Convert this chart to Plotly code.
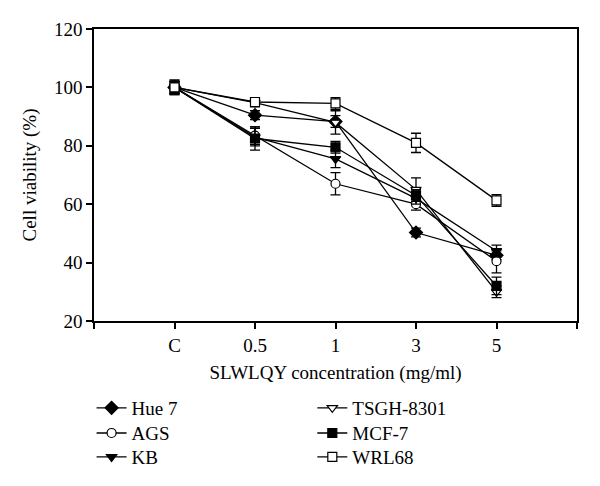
import plotly.graph_objects as go

categories = ["C", "0.5", "1", "3", "5"]
cat_pos = [1, 2, 3, 4, 5]

hue7 = [100, 90.5, 88.3, 50.3, 42.5]
hue7_err = [2.0, 1.5, 2.0, 1.5, 1.5]
ags = [100, 83.5, 67.0, 60.0, 40.5]
ags_err = [2.0, 3.0, 3.8, 2.0, 4.0]
kb = [100, 83.0, 75.5, 62.0, 44.0]
kb_err = [2.0, 3.0, 3.0, 2.0, 2.0]
tsgh = [100, 94.8, 88.0, 65.0, 30.0]
tsgh_err = [2.5, 1.5, 4.0, 4.0, 2.0]
mcf7 = [100, 82.5, 79.5, 63.0, 32.0]
mcf7_err = [2.0, 4.0, 2.0, 2.0, 3.0]
wrl68 = [100, 95.0, 94.5, 81.0, 61.3]
wrl68_err = [2.5, 1.5, 2.0, 3.3, 2.0]

series = [
    ("Hue 7", hue7, hue7_err, "diamond", "black"),
    ("AGS", ags, ags_err, "circle", "white"),
    ("KB", kb, kb_err, "triangle-down", "black"),
    ("TSGH-8301", tsgh, tsgh_err, "triangle-down", "white"),
    ("MCF-7", mcf7, mcf7_err, "square", "black"),
    ("WRL68", wrl68, wrl68_err, "square", "white"),
]

FONT = "Liberation Serif, serif"
FS = 19

legend_names = ["legend", "legend2", "legend3", "legend4", "legend5", "legend6"]
row_y = [-0.298, -0.384, -0.466]
col_x = [-0.005, 0.452]

fig = go.Figure()
for i, (name, vals, errs, sym, fill) in enumerate(series):
    fig.add_trace(go.Scatter(
        x=cat_pos, y=vals, name=name, mode="lines+markers",
        line=dict(color="black", width=1.3),
        marker=dict(symbol=sym, size=9 if sym != "diamond" else 10, color=fill,
                    line=dict(color="black", width=1.2)),
        error_y=dict(type="data", array=errs, visible=True, color="black",
                     thickness=1.3, width=5),
        legend=legend_names[i], showlegend=True,
    ))

axis_common = dict(
    showline=True, linecolor="black", linewidth=1.5, mirror=True,
    ticks="outside", ticklen=6, tickwidth=1.5, tickcolor="black",
    showgrid=False, zeroline=False, automargin=False,
    tickfont=dict(family=FONT, size=FS, color="black"),
)

legends = {}
for i, ln in enumerate(legend_names):
    legends[ln] = dict(x=col_x[i // 3], y=row_y[i % 3], xanchor="left", yanchor="middle",
                       bgcolor="rgba(0,0,0,0)", font=dict(family=FONT, size=FS))

fig.update_layout(
    width=600, height=486,
    showlegend=True,
    margin=dict(l=86, r=31, t=21, b=173, autoexpand=False),
    paper_bgcolor="white", plot_bgcolor="white",
    font=dict(family=FONT, size=FS, color="black"),
    xaxis=dict(range=[0, 6], tickmode="array", tickvals=[0] + cat_pos + [6],
               ticktext=[""] + categories + [""],
               title=dict(text="SLWLQY concentration (mg/ml)",
                          font=dict(family=FONT, size=FS), standoff=11),
               **axis_common),
    yaxis=dict(range=[20, 120], dtick=20, tick0=20,
               title=dict(text="Cell viability (%)",
                          font=dict(family=FONT, size=FS), standoff=12),
               **axis_common),
    **legends,
)

fig.write_html("out.html")
